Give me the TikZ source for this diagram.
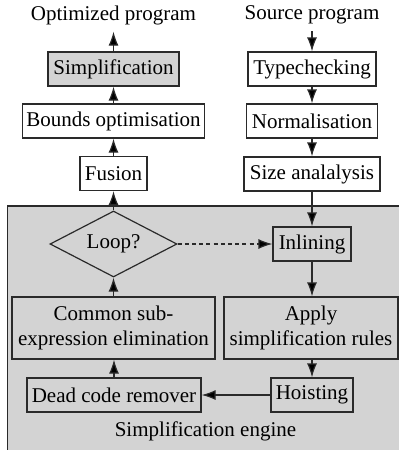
\documentclass[tikz,border=0pt]{standalone}
\usepackage{fontspec}
\setmainfont{Liberation Serif}
\usetikzlibrary{shapes.geometric,arrows.meta}
\definecolor{enginegray}{HTML}{D3D3D3}
\definecolor{linegray}{HTML}{2A2A2A}
\begin{document}
\begin{tikzpicture}[x=0.5pt,y=-0.5pt,
  font=\fontsize{10.5}{12.5}\selectfont,
  stage/.style={draw=linegray,line width=0.6pt,rectangle,inner sep=1pt,
    minimum height=17pt,align=center},
  engstage/.style={stage,fill=enginegray},
  flow/.style={-{Latex[length=7pt,width=5pt,fill=black]},draw=linegray,line width=0.6pt},
  loopback/.style={flow,dash pattern=on 2pt off 1.6pt}]
\useasboundingbox (0,0) rectangle (399,450);

% engine background, open to the right and bottom
\fill[enginegray] (7.5,206) rectangle (410,460);
\draw[linegray,line width=0.6pt] (7.5,460) -- (7.5,206) -- (410,206);

% output side
\node (out) at (113.5,15) {Optimized program};
\node[stage,fill=enginegray,minimum width=65.5pt] (simp) at (113.5,69) {Simplification};
\node[stage,minimum width=91pt] (bounds) at (113.5,121) {Bounds optimisation};
\node[stage,minimum width=33.5pt] (fusion) at (113.5,173.5) {Fusion};

% input side
\node (src) at (312,15) {Source program};
\node[stage,minimum width=64pt] (type) at (312,69) {Typechecking};
\node[stage,minimum width=65.5pt] (norm) at (312,121) {Normalisation};
\node[stage,minimum width=68pt] (size) at (312,174) {Size analalysis};

% simplification engine
\node[diamond,draw=linegray,line width=0.6pt,fill=enginegray,aspect=1.92,
  inner sep=0pt,minimum width=63.5pt,minimum height=33pt] (loop) at (113.5,244) {Loop?};
\node[engstage,minimum width=39pt] (inl) at (312,244) {Inlining};
\node[engstage,minimum width=101.5pt,minimum height=31pt] (cse) at (113.5,328)
  {Common sub-\\expression elimination};
\node[engstage,minimum width=87pt,minimum height=31pt] (apply) at (311,328)
  {Apply\\simplification rules};
\node[engstage,minimum width=87pt] (dead) at (114,395) {Dead code remover};
\node[engstage,minimum width=41pt] (hoist) at (312,395) {Hoisting};
\node (eng) at (205.5,431) {Simplification engine};

% connectors
\draw[flow] (src) -- (type);
\draw[flow] (type) -- (norm);
\draw[flow] (norm) -- (size);
\draw[flow] (size) -- (inl);
\draw[flow] (inl) -- (apply.north -| inl);
\draw[flow] (apply.south -| hoist) -- (hoist);
\draw[flow] (hoist) -- (dead);
\draw[flow] (dead) -- (cse.south -| dead);
\draw[flow] (cse) -- (loop);
\draw[loopback] (loop) -- (inl);
\draw[flow] (loop) -- (fusion);
\draw[flow] (fusion) -- (bounds);
\draw[flow] (bounds) -- (simp);
\draw[flow] (simp) -- (out);
\end{tikzpicture}
\end{document}
